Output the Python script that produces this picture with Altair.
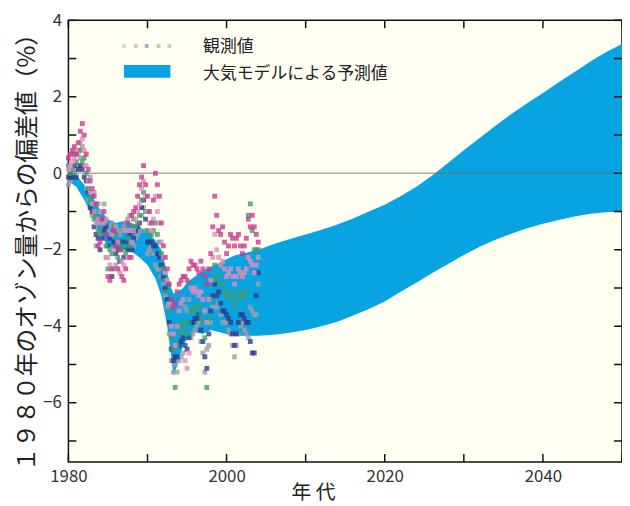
import altair as alt
import pandas as pd

FONT = "Noto Sans CJK JP"
BLUE = "#08a4e2"

# ---- model band (大気モデルによる予測値) ----
BAND_YEAR = [1980.0, 1981.0, 1982.0, 1983.0, 1984.0, 1985.0, 1986.0, 1987.0, 1988.0, 1989.0,
             1990.0, 1991.0, 1991.75, 1992.5, 1993.0, 1993.3, 1993.8, 1994.5, 1995.0, 1996.0,
             1997.0, 1998.0, 1999.0, 2000.0, 2001.0, 2002.0, 2003.0, 2004.0, 2006.0, 2008.0,
             2010.0, 2012.0, 2014.0, 2016.0, 2018.0, 2020.0, 2022.0, 2024.0, 2026.0, 2028.0,
             2030.0, 2032.0, 2034.0, 2036.0, 2038.0, 2040.0, 2042.0, 2044.0, 2046.0, 2048.0, 2050.0]
BAND_UPPER = [0.1, -0.05, -0.3, -0.6, -0.95, -1.2, -1.3, -1.25, -1.3, -1.4,
              -1.55, -1.75, -2.0, -2.6, -3.0, -3.15, -3.1, -3.0, -2.85, -2.7,
              -2.55, -2.45, -2.35, -2.25, -2.15, -2.1, -2.05, -2.0, -1.85, -1.72,
              -1.6, -1.48, -1.34, -1.18, -1.0, -0.82, -0.6, -0.35, -0.06, 0.27,
              0.6, 0.92, 1.24, 1.55, 1.83, 2.1, 2.38, 2.65, 2.92, 3.17, 3.38]
BAND_LOWER = [-0.2, -0.35, -0.7, -1.1, -1.6, -1.9, -2.0, -2.0, -2.05, -2.2,
              -2.4, -2.75, -3.2, -4.0, -4.8, -5.3, -5.0, -4.5, -4.35, -4.15,
              -4.2, -4.1, -4.15, -4.2, -4.25, -4.25, -4.25, -4.25, -4.22, -4.17,
              -4.1, -4.0, -3.88, -3.72, -3.55, -3.35, -3.1, -2.86, -2.61, -2.37,
              -2.14, -1.92, -1.74, -1.58, -1.44, -1.32, -1.22, -1.13, -1.06, -1.02, -1.0]

# ---- observations (観測値), quarterly from 1980.00 to 2004.00 ----
OBS_YEAR = [1980 + q / 4 for q in range(97)]
OBS_MAGENTA = [0.4, 0.5, 0.6, 0.7, 0.5, 0.8, 1.1, 1.3, 1.0, 0.5, 0.1, -0.2,
               -0.4, -0.6, -0.8, -1.9, -1.8, -1.2, -1.0, -1.6, -2.7, -2.8, -2.5, -1.5,
               -1.9, -2.5, -2.0, -2.7, -2.8, -2.5, -1.3, -2.2, -1.1, -1.0, -0.9, -0.6,
               -0.3, -0.1, 0.2, -0.3, -0.6, -1.0, -1.3, -0.7, 0.0, -0.3, -0.6, -1.3,
               -1.9, -2.2, -2.5, -2.9, -3.3, -3.5, -3.4, -3.1, -2.9, -2.8, -2.7, -2.7,
               -2.8, -2.5, -2.3, -2.4, -2.4, -2.5, -2.6, -2.3, -2.5, -2.7, -2.9, -2.5,
               -2.1, -1.4, -0.6, -1.1, -1.5, -1.6, -1.4, -1.8, -2.1, -1.9, -1.6, -1.7,
               -1.9, -1.7, -1.6, -1.9, -2.1, -1.9, -1.7, -1.2, -1.4, -1.1, -1.4, -1.6, -1.8]
OBS_PINK = [0.1, 0.2, 0.3, 0.4, 0.6, 0.5, 0.8, 0.9, 0.6, 0.2, -0.2, -0.5,
            -0.8, -1.0, -1.3, -1.2, -1.3, -1.0, -1.3, -1.2, -2.2, -2.4, -1.6, -2.0,
            -1.4, -1.8, -2.6, -2.3, -2.4, -1.5, -2.2, -1.5, -1.8, -1.5, -1.2, -1.0,
            -0.8, -0.4, -0.2, -0.6, -1.0, -1.3, -1.5, -1.2, -0.6, -1.0, -1.3, -1.8,
            -2.2, -2.6, -2.8, -3.4, -4.0, -4.2, -4.5, -4.0, -3.6, -3.4, -3.3, -4.9,
            -5.1, -4.7, -3.0, -3.1, -3.0, -3.1, -3.2, -3.1, -3.3, -3.6, -3.9, -3.3,
            -2.8, -2.2, -1.6, -2.0, -2.2, -2.4, -2.3, -2.5, -2.7, -2.6, -2.5, -2.7,
            -2.9, -2.7, -2.5, -2.6, -2.7, -2.6, -2.5, -2.2, -2.3, -2.4, -2.6, -2.4, -2.2]
OBS_GRAY = [-0.3, -0.2, 0.5, 0.0, 0.1, 0.2, 0.4, 0.7, 0.2, -0.4, -0.7, -0.1,
            -1.1, -0.5, -1.9, -0.8, -1.0, -1.5, -0.8, -2.2, -1.5, -1.4, -1.3, -2.5,
            -2.4, -1.5, -1.6, -1.5, -1.4, -1.3, -1.2, -1.1, -2.2, -1.9, -1.7, -1.6,
            -1.5, -1.1, -0.9, -1.5, -2.1, -2.0, -1.9, -2.1, -2.4, -2.5, -2.5, -2.7,
            -2.9, -3.2, -3.5, -4.2, -4.9, -5.2, -5.0, -5.2, -4.9, -4.8, -4.7, -3.5,
            -3.6, -3.3, -4.3, -4.2, -4.1, -4.0, -3.9, -4.4, -4.7, -5.2, -4.6, -4.5,
            -3.9, -3.5, -3.2, -3.5, -3.4, -3.7, -3.9, -3.9, -3.9, -4.1, -4.2, -4.5,
            -4.8, -4.5, -4.2, -4.0, -3.9, -4.1, -4.2, -4.3, -3.5, -3.6, -3.7, -3.7, -2.9]
OBS_GREEN = [0.2, 0.0, 0.1, 0.5, 0.3, 0.6, 0.6, 0.3, 0.4, 0.0, -0.4, -0.7,
             -0.6, -1.2, -1.1, -1.5, -1.6, -1.3, -1.2, -1.9, -2.5, -2.0, -2.1, -1.4,
             -1.6, -2.2, -1.9, -2.0, -1.9, -2.1, -1.7, -1.9, -1.4, -1.2, -1.4, -1.3,
             -1.1, -0.7, -0.5, -1.0, -1.5, -1.6, -1.6, -1.5, -1.3, -1.6, -1.8, -2.1,
             -2.5, -2.8, -3.1, -3.6, -4.3, -4.6, -5.6, -4.5, -4.2, -4.0, -3.9, -4.1,
             -4.2, -3.9, -3.6, -3.6, -3.5, -3.5, -3.5, -3.7, -3.9, -4.3, -5.6, -3.8,
             -3.3, -2.8, -2.4, -2.7, -2.7, -2.9, -2.9, -3.1, -3.2, -3.2, -3.1, -3.3,
             -3.5, -3.3, -3.1, -3.2, -3.2, -3.2, -3.1, -1.1, -0.8, -1.5, -2.0, -2.0, -2.0]
OBS_NAVY = [-0.1, -0.1, -0.1, 0.2, -0.1, 0.1, 0.2, 0.1, -0.1, -0.2, -0.5, -0.9,
            -1.0, -1.4, -1.6, -1.7, -2.0, -1.7, -1.5, -1.4, -1.9, -1.7, -2.7, -1.8,
            -2.1, -2.0, -2.3, -1.8, -2.2, -1.8, -2.0, -1.6, -2.0, -1.7, -1.5, -1.4,
            -1.3, -0.9, -0.7, -1.2, -1.8, -1.8, -1.8, -1.9, -1.9, -2.1, -2.2, -2.4,
            -2.7, -3.0, -3.3, -3.9, -4.6, -4.9, -4.8, -4.8, -4.5, -4.4, -4.3, -4.5,
            -4.6, -4.3, -3.9, -3.9, -3.8, -3.8, -3.7, -4.1, -4.4, -4.8, -5.1, -4.2,
            -3.6, -3.2, -2.9, -3.2, -3.1, -3.4, -3.6, -3.6, -3.7, -3.8, -3.9, -4.2,
            -4.5, -4.2, -3.9, -3.7, -3.7, -3.8, -3.9, -3.9, -4.4, -4.7, -4.7, -3.2, -2.6]

SERIES = [("gray", OBS_GRAY, "#9c9cab"),
          ("navy", OBS_NAVY, "#2d3c8e"),
          ("green", OBS_GREEN, "#3d9c6c"),
          ("pink", OBS_PINK, "#e38cbd"),
          ("magenta", OBS_MAGENTA, "#cc3a8e")]

X_TICKS = [1980, 1990, 2000, 2010, 2020, 2030, 2040, 2050]
X_LABELS = [1980, 2000, 2020, 2040]
Y_TICKS = [-7, -6, -5, -4, -3, -2, -1, 0, 1, 2, 3, 4]
Y_LABELS = [-6, -4, -2, 0, 2, 4]

W, H, TICK = 559, 446, 8
XS = alt.Scale(domain=[1980, 2050], nice=False, zero=False)
YS = alt.Scale(domain=[-7.55, 4], nice=False, zero=False)

AX = alt.Axis(
    orient="bottom", values=X_LABELS, format="d", domain=False, grid=False, ticks=False,
    labelFont=FONT, labelFontSize=17, labelColor="#333333", labelPadding=7,
    labelFlush=False, labelOverlap=False,
    title="年 代", titleFont=FONT, titleFontSize=20, titleFontWeight="normal",
    titleColor="#222222", titleX=247, titleY=31, titleAlign="center",
    titleBaseline="middle", titleAnchor="start")
AY = alt.Axis(
    orient="left", values=Y_LABELS, domain=False, grid=False, ticks=False,
    labelFont=FONT, labelFontSize=17, labelColor="#333333", labelPadding=7,
    labelFlush=False, labelOverlap=False,
    title="１９８０年のオゾン量からの偏差値（%）", titleFont=FONT, titleFontSize=24,
    titleFontWeight="normal", titleColor="#222222", titleX=-41, titleY=228,
    titleAngle=-90, titleAlign="center", titleBaseline="middle", titleAnchor="start")

band_df = pd.DataFrame({"year": BAND_YEAR, "upper": BAND_UPPER, "lower": BAND_LOWER})

band = alt.Chart(band_df).mark_area(color=BLUE, opacity=1).encode(
    x=alt.X("year:Q", scale=XS, axis=AX),
    y=alt.Y("upper:Q", scale=YS, axis=AY),
    y2="lower:Q",
)

zero = alt.Chart(pd.DataFrame({"v": [0]})).mark_rule(color="#707070", strokeWidth=1.5, opacity=0.6).encode(
    y=alt.Y("v:Q", scale=YS, axis=AY)
)

layers = [band, zero]

# ---- inward ticks on all four sides (tick marks placed through the scales) ----
xt = pd.DataFrame({"xtick": X_TICKS})
yt = pd.DataFrame({"ytick": Y_TICKS})
for yc in [H - TICK / 2, TICK / 2]:
    layers.append(alt.Chart(xt).mark_tick(orient="vertical", color="#111111", size=TICK,
                                          thickness=1.5, opacity=1).encode(
        x=alt.X("xtick:Q", scale=XS, axis=AX), y=alt.value(yc)))
for xc in [TICK / 2, W - TICK / 2]:
    layers.append(alt.Chart(yt).mark_tick(orient="horizontal", color="#111111", size=TICK,
                                          thickness=1.5, opacity=1).encode(
        y=alt.Y("ytick:Q", scale=YS, axis=AY), x=alt.value(xc)))

for name, vals, col in SERIES:
    df = pd.DataFrame({"year": OBS_YEAR, "value": vals})
    layers.append(
        alt.Chart(df).mark_square(size=24, color=col, opacity=0.8).encode(
            x=alt.X("year:Q", scale=XS, axis=AX),
            y=alt.Y("value:Q", scale=YS, axis=AY),
        )
    )

# ---- legend ----
one = pd.DataFrame({"a": [0]})
LEGEND_DOT_X = [56, 68, 79, 91, 102]
for px, col in zip(LEGEND_DOT_X, ["#9c9cab", "#cc6a80", "#2d3c8e", "#3d9c6c", "#cc5aa0"]):
    layers.append(alt.Chart(one).mark_square(size=14, color=col, opacity=0.45).encode(
        x=alt.value(px), y=alt.value(26)))
layers.append(alt.Chart(one).mark_rect(color=BLUE).encode(
    x=alt.value(56), x2=alt.value(103), y=alt.value(45), y2=alt.value(58)))
layers.append(alt.Chart(one).mark_text(align="left", baseline="middle", font=FONT, fontSize=17,
                                       color="#222222").encode(
    x=alt.value(136), y=alt.value(27), text=alt.value("観測値")))
layers.append(alt.Chart(one).mark_text(align="left", baseline="middle", font=FONT, fontSize=17,
                                       color="#222222").encode(
    x=alt.value(136), y=alt.value(54), text=alt.value("大気モデルによる予測値")))

chart = alt.layer(*layers).properties(
    width=W, height=H,
    padding={"left": 61, "top": 10, "right": 0, "bottom": 42},
    autosize=alt.AutoSizeParams(type="none"),
    background="#ffffff",
).configure_view(stroke="#111111", strokeWidth=1.5, fill="#fffff2")

chart.save("out.html", embed_options={"renderer": "svg", "actions": False})
